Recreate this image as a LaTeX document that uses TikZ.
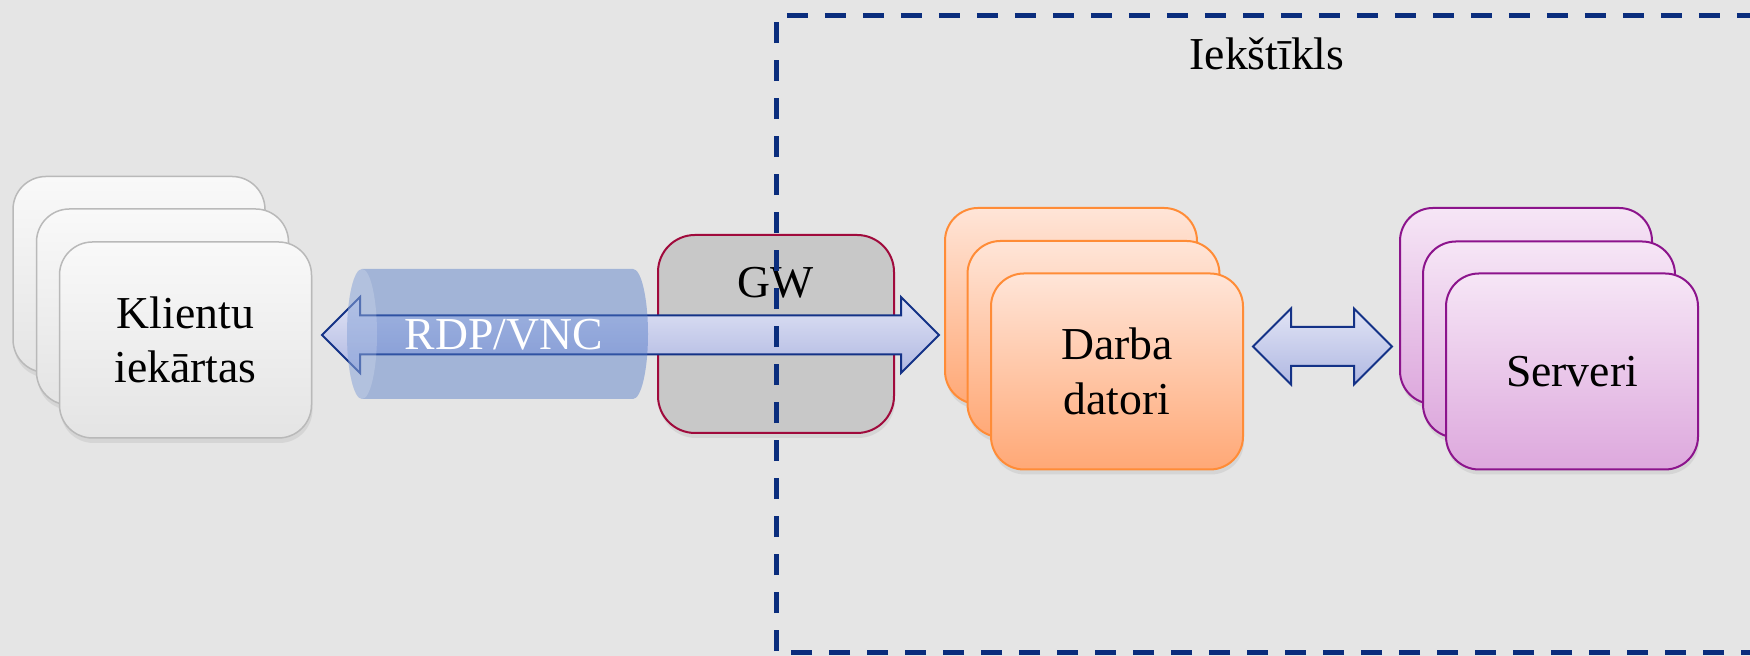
\documentclass[tikz,border=0pt]{standalone}
\usepackage{fontspec}
\setmainfont{Liberation Serif}
\usetikzlibrary{calc,shadows}
\definecolor{bg}{RGB}{229,229,229}
\definecolor{navy}{RGB}{10,45,125}
\definecolor{kltop}{RGB}{249,249,249}
\definecolor{klbot}{RGB}{228,228,228}
\definecolor{klline}{RGB}{185,185,185}
\definecolor{gwfill}{RGB}{200,200,200}
\definecolor{gwline}{RGB}{160,10,60}
\definecolor{dtop}{RGB}{255,229,216}
\definecolor{dbot}{RGB}{255,168,118}
\definecolor{dline}{RGB}{255,140,55}
\definecolor{svtop}{RGB}{246,230,246}
\definecolor{svbot}{RGB}{221,168,221}
\definecolor{svline}{RGB}{140,20,140}
\definecolor{artop}{RGB}{225,228,245}
\definecolor{arbot}{RGB}{176,184,226}
\definecolor{arline}{RGB}{20,50,135}
\definecolor{cyl}{RGB}{81,121,199}
\tikzset{
  txt/.style={font=\fontsize{13}{15.5}\selectfont, inner sep=0pt, align=center},
  box/.style={txt, rectangle, rounded corners=3.3mm, minimum width=25.2mm,
    minimum height=19.6mm, line width=0.2mm,
    drop shadow={shadow xshift=0.1mm, shadow yshift=-0.5mm, opacity=0.15}},
  klbox/.style={box, draw=klline, line width=0.15mm, top color=kltop, bottom color=klbot},
  gwbox/.style={box, draw=gwline, fill=gwfill, minimum width=23.6mm, minimum height=19.8mm, rounded corners=3.7mm},
  dbox/.style={box, draw=dline, top color=dtop, bottom color=dbot},
  svbox/.style={box, draw=svline, top color=svtop, bottom color=svbot},
  arrowbox/.style={draw=arline, line width=0.2mm, top color=artop, bottom color=arbot, line join=miter},
  dashline/.style={draw=navy, line width=0.5mm, dash pattern=on 2.15mm off 1.65mm},
}
\newcommand{\blockarrow}[2]{%
  \path[arrowbox] (#1) -- ($(#1)+(38,-38)$) -- ($(#1)+(38,-19.5)$)
    -- ($(#2)+(-38,-19.5)$) -- ($(#2)+(-38,-38)$) -- (#2)
    -- ($(#2)+(-38,38)$) -- ($(#2)+(-38,19.5)$)
    -- ($(#1)+(38,19.5)$) -- ($(#1)+(38,38)$) -- cycle;}
\begin{document}
\begin{tikzpicture}[x=0.1mm,y=-0.1mm]
\useasboundingbox (0,0) rectangle (1750,656);
\clip (0,0) rectangle (1750,656);
\fill[bg] (0,0) rectangle (1750,656);

% client devices
\node[klbox] (k3) at (139,274.5) {};
\node[klbox] (k2) at (162.5,307) {};
\node[klbox] (k1) at (185.5,340) {Klientu\\iekārtas};

% gateway
\node[gwbox] (gw) at (776,334) {};
\node[txt] (gwt) at (776,283) {GW};

% big double arrow
\coordinate (bigL) at (322,335);
\coordinate (bigR) at (939,335);
\blockarrow{bigL}{bigR}

% tunnel cylinder
\fill[cyl, opacity=0.45] (362,269) -- (633,269)
  arc[start angle=90, end angle=-90, x radius=1.5mm, y radius=6.5mm]
  -- (362,399)
  arc[start angle=270, end angle=90, x radius=1.5mm, y radius=6.5mm] -- cycle;
\fill[white, opacity=0.18] (362,334) ellipse[x radius=1.5mm, y radius=6.5mm];
\node[txt, text=white] (rdp) at (504,335) {RDP/VNC};

% workstations
\node[dbox] (d3) at (1071,306) {};
\node[dbox] (d2) at (1093.5,339) {};
\node[dbox] (d1) at (1117,371.5) {Darba\\datori};

% small double arrow
\coordinate (smL) at (1253,346.5);
\coordinate (smR) at (1392,346.5);
\blockarrow{smL}{smR}

% servers
\node[svbox] (s3) at (1526,306) {};
\node[svbox] (s2) at (1549,339.5) {};
\node[svbox] (s1) at (1572,371.5) {Serveri};

% intranet boundary
\draw[dashline] (1800,653) -- (776,653) -- (776,16) -- (1800,16);
\node[txt] (iek) at (1267,54) {Iekštīkls};
\end{tikzpicture}
\end{document}
